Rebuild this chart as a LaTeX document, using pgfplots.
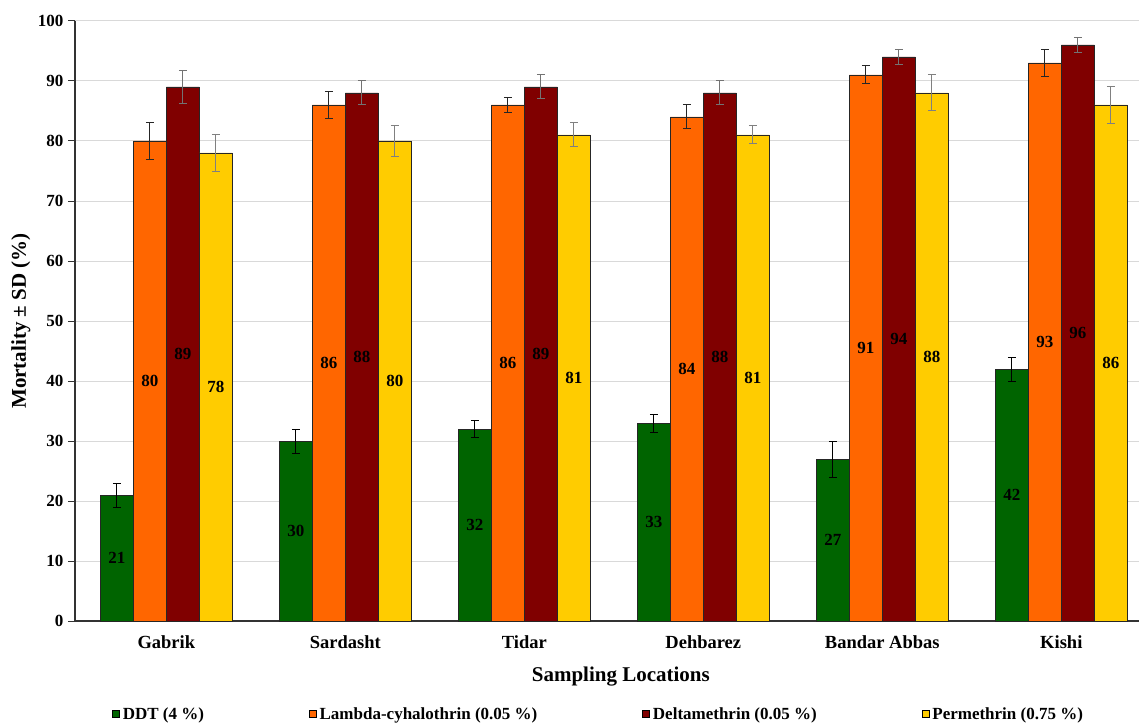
\documentclass[border=0pt]{standalone}
\usepackage{pgfplots}
\pgfplotsset{compat=1.18}
\usepackage{fontspec}
\setmainfont{Liberation Serif}

\definecolor{ddt}{RGB}{0,100,0}
\definecolor{lambda}{RGB}{255,102,0}
\definecolor{delta}{RGB}{128,0,0}
\definecolor{perm}{RGB}{255,204,0}

\newcommand{\fs}[1]{\bfseries\fontsize{#1}{#1}\selectfont}

\begin{document}
\begin{tikzpicture}
\useasboundingbox (0,0) rectangle (1139pt,724pt);
\begin{axis}[
  at={(75pt,103pt)}, anchor=south west,
  scale only axis, width=1064pt, height=600pt,
  ybar=0pt, bar width=33pt,
  xmin=-0.51, xmax=5.434,
  ymin=0, ymax=100,
  ytick={0,10,...,100},
  xtick={0,...,5},
  xticklabels={Gabrik,Sardasht,Tidar,Dehbarez,Bandar Abbas,Kishi},
  axis x line=bottom, axis y line=left,
  axis line style={-, black!80, line width=1.1pt},
  xtick style={draw=none},
  ytick style={black!80, line width=1pt},
  tick align=outside, major tick length=7pt,
  ymajorgrids, grid style={black!15, line width=1pt},
  /pgf/number format/assume math mode=true,
  yticklabel style={font=\fs{17}, xshift=-1pt},
  xticklabel style={font=\fs{18.5}, yshift=-4pt},
  xlabel={Sampling Locations},
  ylabel={Mortality ± SD (\%)},
  xlabel style={font=\fs{21}, at={(axis description cs:0.513,-0.092)}, anchor=center},
  ylabel style={font=\fs{21}, at={(axis description cs:-0.0508,0.5)}, anchor=center, rotate=0},
  every axis plot/.append style={draw=black!85, line width=0.8pt},
  error bars/y dir=both, error bars/y explicit,
  nodes near coords,
  visualization depends on={rawy \as \rawy},
  every node near coord/.append style={font=\fs{17}, black, anchor=center, yshift={-3pt*\rawy}},
  legend columns=4,
  legend style={draw=none, font=\fs{17},
    at={(axis description cs:0.032,-0.155)}, anchor=west,
    /tikz/every even column/.append style={column sep=103pt},
    /tikz/every odd column/.append style={column sep=1pt}},
  legend image code/.code={\draw[#1, draw=black, line width=0.6pt] (0pt,-3.5pt) rectangle (7pt,3.5pt);},
]
\addplot[fill=ddt, error bars/error bar style={black, line width=1pt},
  error bars/error mark options={rotate=90, mark size=4pt, black, line width=1pt}]
  coordinates {(0,21) +- (0,2) (1,30) +- (0,2) (2,32) +- (0,1.4) (3,33) +- (0,1.5) (4,27) +- (0,3) (5,42) +- (0,2)};
\addplot[fill=lambda, error bars/error bar style={black!85, line width=1pt},
  error bars/error mark options={rotate=90, mark size=4pt, black!85, line width=1pt}]
  coordinates {(0,80) +- (0,3) (1,86) +- (0,2.3) (2,86) +- (0,1.3) (3,84) +- (0,2) (4,91) +- (0,1.5) (5,93) +- (0,2.3)};
\addplot[fill=delta, error bars/error bar style={black!55, line width=1pt},
  error bars/error mark options={rotate=90, mark size=4pt, black!55, line width=1pt}]
  coordinates {(0,89) +- (0,2.8) (1,88) +- (0,2) (2,89) +- (0,2) (3,88) +- (0,2) (4,94) +- (0,1.2) (5,96) +- (0,1.3)};
\addplot[fill=perm, error bars/error bar style={black!50, line width=1pt},
  error bars/error mark options={rotate=90, mark size=4pt, black!50, line width=1pt}]
  coordinates {(0,78) +- (0,3) (1,80) +- (0,2.5) (2,81) +- (0,2) (3,81) +- (0,1.5) (4,88) +- (0,3) (5,86) +- (0,3)};
\legend{DDT (4 \%), Lambda-cyhalothrin (0.05 \%), Deltamethrin (0.05 \%), Permethrin (0.75 \%)}
\end{axis}
\end{tikzpicture}
\end{document}
